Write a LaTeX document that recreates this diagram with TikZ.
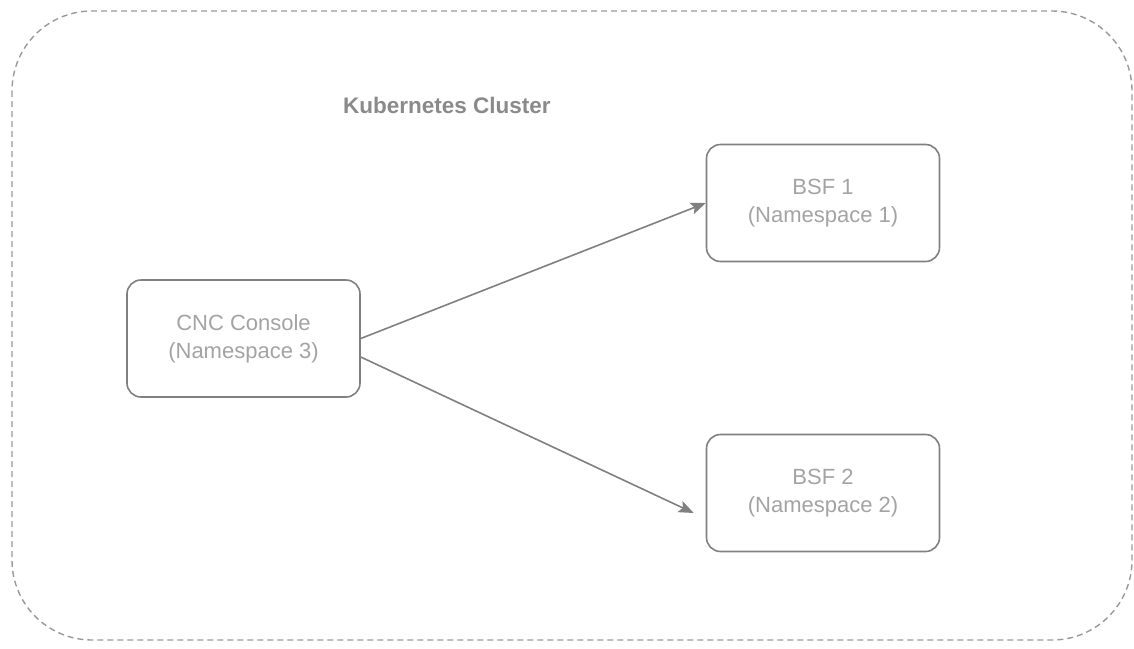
\documentclass[tikz,border=0pt]{standalone}
\usepackage{fontspec}
\setmainfont{Liberation Sans}
\usetikzlibrary{arrows.meta,calc}
\definecolor{linegray}{HTML}{808080}
\definecolor{txtgray}{HTML}{A3A3A3}
\definecolor{titlegray}{HTML}{8A8A8A}
\definecolor{dashgray}{HTML}{999999}
\begin{document}
\begin{tikzpicture}[x=1pt,y=-1pt,
  stepbox/.style={draw=linegray,line width=1.6pt,rounded corners=14pt,
    minimum width=233pt,minimum height=117pt,align=center,text=txtgray,
    font=\fontsize{22}{28}\selectfont,inner sep=0pt},
  arr/.style={draw=linegray,line width=1.6pt,
    -{Stealth[length=15pt,width=12pt,inset=3pt]}},
  cluster/.style={draw=dashgray,line width=1.4pt,dash pattern=on 6pt off 4pt,
    rounded corners=80pt}]
\useasboundingbox (0,0) rectangle (1134,648);
\draw[cluster] (12,11) rectangle (1132,640);
\node[text=titlegray,font=\bfseries\fontsize{22.5}{27}\selectfont] (title) at (447,105) {Kubernetes Cluster};
\node[stepbox] (cnc) at (243.5,338.5) {CNC Console\\(Namespace 3)};
\node[stepbox] (b1) at (823,203) {BSF 1\\(Namespace 1)};
\node[stepbox] (b2) at (823,493) {BSF 2\\(Namespace 2)};
\coordinate (s2) at ([yshift=-18.5pt]cnc.east);
\coordinate (e2) at ([xshift=-12pt,yshift=-20pt]b2.west);
\draw[arr] (cnc.east) -- (b1.west);
\draw[arr] (s2) -- (e2);
\end{tikzpicture}
\end{document}
